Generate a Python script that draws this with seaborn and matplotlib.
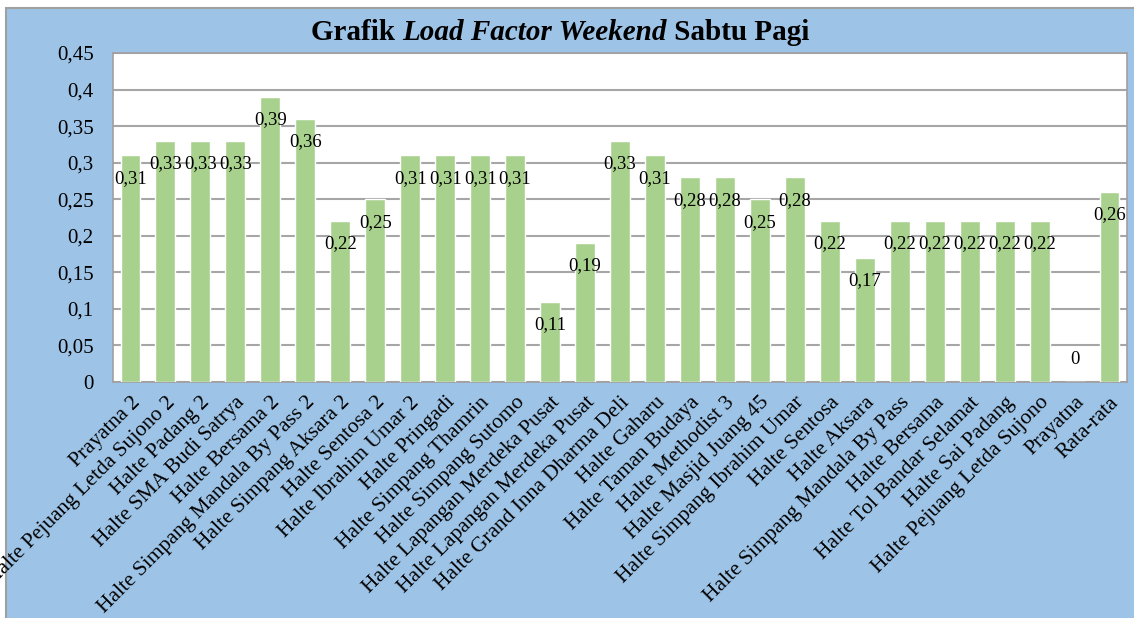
import pandas as pd
import matplotlib
matplotlib.use("Agg")
import matplotlib.pyplot as plt
from matplotlib.patches import Rectangle
import seaborn as sns

# data
halte = ['Prayatna 2', 'Halte Pejuang Letda Sujono 2', 'Halte Padang 2', 'Halte SMA Budi Satrya',
         'Halte Bersama 2', 'Halte Simpang Mandala By Pass 2', 'Halte Simpang Aksara 2',
         'Halte Sentosa 2', 'Halte Ibrahim Umar 2', 'Halte Pringadi', 'Halte Simpang Thamrin',
         'Halte Simpang Sutomo', 'Halte Lapangan Merdeka Pusat', 'Halte Lapangan Merdeka Pusat',
         'Halte Grand Inna Dharma Deli', 'Halte Gaharu', 'Halte Taman Budaya', 'Halte Methodist 3',
         'Halte Masjid Juang 45', 'Halte Simpang Ibrahim Umar', 'Halte Sentosa', 'Halte Aksara',
         'Halte Simpang Mandala By Pass', 'Halte Bersama', 'Halte Tol Bandar Selamat',
         'Halte Sai Padang', 'Halte Pejuang Letda Sujono', 'Prayatna', 'Rata-rata']
load_factor = [0.31, 0.33, 0.33, 0.33, 0.39, 0.36, 0.22, 0.25, 0.31, 0.31, 0.31, 0.31, 0.11, 0.19,
               0.33, 0.31, 0.28, 0.28, 0.25, 0.28, 0.22, 0.17, 0.22, 0.22, 0.22, 0.22, 0.22, 0.0, 0.26]
y_ticks = [0, 0.05, 0.1, 0.15, 0.2, 0.25, 0.3, 0.35, 0.4, 0.45]

BLUE = '#9DC3E6'
GREEN = '#A9D18E'
GRID = '#A6A6A6'

def koma(v):
    # Indonesian decimal comma, no trailing zeros
    s = ('%.2f' % v).rstrip('0').rstrip('.')
    return s.replace('.', ',')

# halte names repeat, so use the position as the category
df = pd.DataFrame({'pos': range(len(halte)), 'lf': load_factor})

sns.set_style('white')
plt.rcParams['font.family'] = ['Liberation Serif', 'DejaVu Serif']
plt.rcParams['text.color'] = 'black'
plt.rcParams['xtick.color'] = 'black'
plt.rcParams['ytick.color'] = 'black'

fig = plt.figure(figsize=(11.34, 6.18), dpi=100, facecolor='white')
# blue chart area with a thin grey frame at the top and left
fig.patches.append(Rectangle((6 / 1134, -0.02), 1.02, 1 - 8 / 618 + 0.02, transform=fig.transFigure,
                             facecolor=BLUE, edgecolor='#A0A0A0', lw=1.5, zorder=-5))

ax = fig.add_axes([113 / 1134, 1 - 382 / 618, (1127 - 113) / 1134, (382 - 53) / 618])
ax.set_facecolor('white')
sns.barplot(data=df, x='pos', y='lf', color=GREEN, saturation=1, width=0.57, ax=ax, zorder=3)

ax.set_ylim(0, 0.45)
ax.set_xlim(-0.5, len(halte) - 0.5)
ax.set_yticks(y_ticks)
ax.set_yticklabels([koma(v) for v in y_ticks], fontsize=15)
ax.set_xticks(range(len(halte)))
ax.set_xticklabels(halte, rotation=45, ha='right', rotation_mode='anchor', fontsize=15.5)
ax.tick_params(axis='both', length=0)
ax.tick_params(axis='y', pad=14)
ax.tick_params(axis='x', pad=8)
ax.set_xlabel('')
ax.set_ylabel('')
ax.grid(axis='y', color=GRID, lw=1.5, zorder=1)
ax.set_axisbelow(True)
for sp in ax.spines.values():
    sp.set_color('#A0A0A0')
    sp.set_linewidth(1.2)

for i, v in enumerate(load_factor):
    off = 16 if v == 0 else -16.5
    ax.annotate(koma(v), (i, v), xytext=(0, off), textcoords='offset points',
                ha='center', va='center', fontsize=13.5, zorder=5)

# title with italic middle part, centred as one line
parts = [('Grafik ', 'normal'), ('Load Factor Weekend', 'italic'), (' Sabtu Pagi', 'normal')]
texts = [fig.text(0, 1 - 40 / 618, p, fontsize=21, fontweight='bold', fontstyle=st, va='baseline')
         for p, st in parts]
fig.canvas.draw()
r = fig.canvas.get_renderer()
widths = [t.get_window_extent(r).width / fig.bbox.width for t in texts]
x = 560 / 1134 - sum(widths) / 2
for t, w in zip(texts, widths):
    t.set_x(x)
    x += w

fig.savefig('out.png', dpi=100, facecolor='white')
